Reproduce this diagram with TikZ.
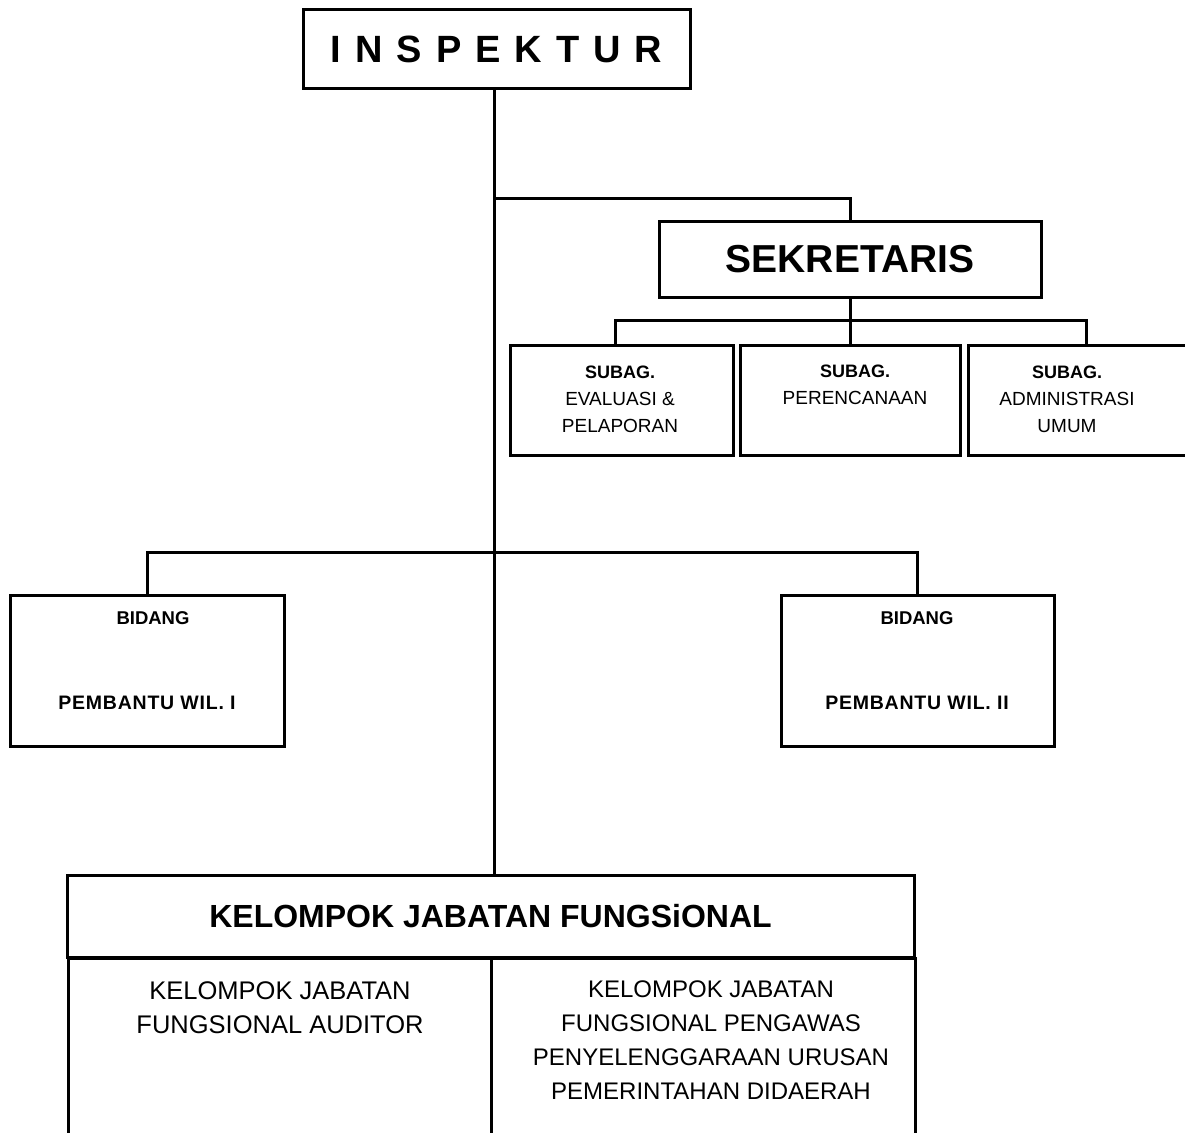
\documentclass[tikz,border=0pt]{standalone}
\usepackage{fontspec}
\setmainfont{Liberation Sans}
\begin{document}
\begin{tikzpicture}[x=1pt,y=-1pt,
  box/.style={draw, line width=3pt, inner sep=0pt, rectangle},
  conn/.style={line width=3pt},
  subtxt/.style={align=center, inner sep=0pt, font=\fontsize{19}{27}\selectfont},
  bidtxt/.style={inner sep=0pt, font=\fontsize{18.5}{22}\selectfont\bfseries},
  kjftxt/.style={align=center, inner sep=0pt, font=\fontsize{25.5}{34}\selectfont}]
\useasboundingbox (0,0) rectangle (1185,1132);
\clip (0,0) rectangle (1185,1132);
\fill[white] (0,0) rectangle (1185,1132);

% top
\node[box, minimum width=387pt, minimum height=78pt] (insp) at (496.5,49)
  {\fontsize{38}{44}\selectfont\bfseries I\hspace{14pt}N\hspace{14pt}S\hspace{14pt}P\hspace{14pt}E\hspace{14pt}K\hspace{14pt}T\hspace{14pt}U\hspace{14pt}R};
\node[box, minimum width=382pt, minimum height=76pt] (sek) at (850,259)
  {\fontsize{39}{46}\selectfont\bfseries SEKRETARIS};

% subag boxes
\node[box, minimum width=223pt, minimum height=110pt] (sub1) at (621.5,400) {};
\node[box, minimum width=220pt, minimum height=110pt] (sub2) at (850,400) {};
\node[box, minimum width=222pt, minimum height=110pt] (sub3) at (1079,400) {};
\node[subtxt] (sub1t) at (620,399) {{\fontsize{18}{27}\selectfont\bfseries SUBAG.}\\EVALUASI \&\\PELAPORAN};
\node[subtxt] (sub2t) at (855,385) {{\fontsize{18}{27}\selectfont\bfseries SUBAG.}\\PERENCANAAN};
\node[subtxt] (sub3t) at (1067,399) {{\fontsize{18}{27}\selectfont\bfseries SUBAG.}\\ADMINISTRASI\\UMUM};

% bidang boxes
\node[box, minimum width=274pt, minimum height=151pt] (bid1) at (147,670.5) {};
\node[box, minimum width=273pt, minimum height=151pt] (bid2) at (917.5,670.5) {};
\node[bidtxt] (bid1a) at (153,618) {BIDANG};
\node[bidtxt, font=\fontsize{19.5}{22}\selectfont\bfseries] (bid1b) at (147,703) {\addfontfeatures{LetterSpace=4}PEMBANTU WIL. I};
\node[bidtxt] (bid2a) at (917,618) {BIDANG};
\node[bidtxt, font=\fontsize{19.5}{22}\selectfont\bfseries] (bid2b) at (917,703) {\addfontfeatures{LetterSpace=4}PEMBANTU WIL. II};

% kelompok jabatan fungsional
\node[box, minimum width=847pt, minimum height=82pt] (kjf) at (490.5,916)
  {\fontsize{32}{38}\selectfont\bfseries KELOMPOK JABATAN FUNGSiONAL};
\node[box, minimum width=423pt, minimum height=200pt, anchor=north west] (kjfl) at (67,957) {};
\node[box, minimum width=424pt, minimum height=200pt, anchor=north west] (kjfr) at (490,957) {};
\node[kjftxt, anchor=north] (kjflt) at (280,981) {KELOMPOK JABATAN\\FUNGSIONAL AUDITOR};
\node[kjftxt, anchor=north, font=\fontsize{24}{34}\selectfont] (kjfrt) at (711,981) {KELOMPOK JABATAN\\FUNGSIONAL PENGAWAS\\PENYELENGGARAAN URUSAN\\PEMERINTAHAN DIDAERAH};

% connectors
\coordinate (trunk) at (494,0);
\draw[conn] (insp.south -| trunk) -- (kjf.north -| trunk);
\coordinate (sekj) at (494,198);
\draw[conn] (sekj) -| (sek.north);
\coordinate (sbus) at (850,320);
\draw[conn] (sek.south) -- (sbus);
\draw[conn] ([xshift=-6.5pt]sub1.north) |- (sbus) -| ([xshift=7pt]sub3.north);
\draw[conn] (sbus) -- (sub2.north);
\coordinate (bj) at (494,552);
\draw[conn] (bid1.north) |- (bj) -| (bid2.north);
\end{tikzpicture}
\end{document}
